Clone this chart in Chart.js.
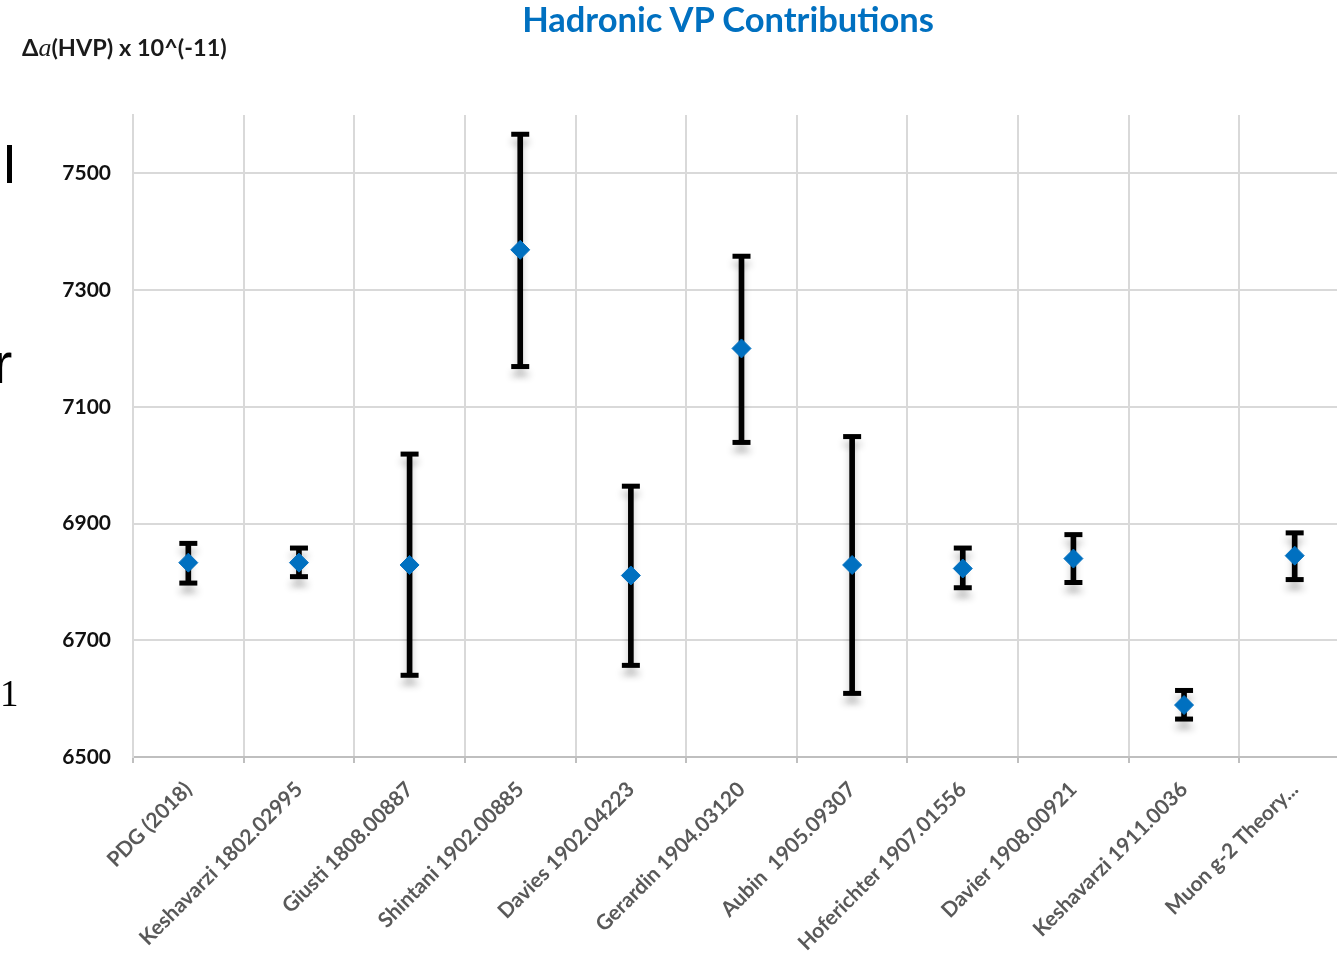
<!DOCTYPE html>
<html>
<head>
<meta charset="utf-8">
<title>Hadronic VP Contributions</title>
<script src="https://cdn.jsdelivr.net/npm/chart.js@4.4.1/dist/chart.umd.min.js"></script>
<style>
  body { margin: 0; background: #fff; overflow: hidden; }
  #wrap { position: relative; width: 1337px; height: 956px; overflow: hidden; }
  #chart { position: absolute; left: 0; top: 0; }
  .title {
    position: absolute; left: 378px; top: 2px; width: 700px;
    text-align: center; font: bold 34.5px/34.5px Lato, sans-serif; color: #0070c0;
  }
  .ylabel {
    position: absolute; left: 22px; top: 36px;
    font: bold 23.5px/23.5px Lato, sans-serif; color: #1a1a1a; white-space: pre;
  }
  .ylabel i { font-family: "Liberation Serif", serif; font-weight: normal; font-size: 26px; }
  .stray { position: absolute; color: #000; line-height: 1; white-space: pre; }
</style>
</head>
<body>
<div id="wrap">
  <!-- the plot runs a little past the right edge of the slide, as in the original -->
  <canvas id="chart" width="1350" height="956"></canvas>
  <div class="title">Hadronic VP Contributions</div>
  <div class="ylabel">Δ<i>a</i>(HVP) x 10^(-11)</div>
  <!-- bits of other slide text cut off at the left edge -->
  <div class="stray" style="left:-22px;top:138px;font:40px/40px 'Liberation Sans',sans-serif;">e</div>
  <div class="stray" style="left:7px;top:145px;width:5px;height:38px;background:#000;"></div>
  <div class="stray" style="left:-7px;top:334px;font:58px/58px 'Liberation Sans',sans-serif;">r</div>
  <div class="stray" style="left:0px;top:675px;font:37px/37px 'Liberation Serif',serif;">1</div>
</div>
<script>
// Data
const labels = [
  "PDG (2018)", "Keshavarzi 1802.02995", "Giusti 1808.00887", "Shintani 1902.00885",
  "Davies 1902.04223", "Gerardin 1904.03120", "Aubin  1905.09307", "Hoferichter 1907.01556",
  "Davier 1908.00921", "Keshavarzi 1911.0036", "Muon g-2 Theory..."
];
const centralValues = [6833, 6833, 6829, 7369, 6811, 7200, 6829, 6823, 6840, 6589, 6845];
const upperValues   = [6866, 6858, 7019, 7567, 6964, 7358, 7049, 6858, 6881, 6614, 6884];
const lowerValues   = [6798, 6809, 6640, 7169, 6657, 7039, 6609, 6790, 6799, 6565, 6804];
const yTicks = [6500, 6700, 6900, 7100, 7300, 7500];

const gridGray = "#d9d9d9";
const axisGray = "#bfbfbf";

// soft shadow under the error bars
const shadowPlugin = {
  id: "barShadow",
  beforeDatasetDraw(chart, args) {
    if (!chart.data.datasets[args.index].shadow) return;
    const c = chart.ctx;
    c.save();
    c.shadowColor = "rgba(0,0,0,0.22)";
    c.shadowBlur = 7;
    c.shadowOffsetY = 8;
  },
  afterDatasetDraw(chart, args) {
    if (chart.data.datasets[args.index].shadow) chart.ctx.restore();
  }
};

const ctx = document.getElementById("chart").getContext("2d");
const chart = new Chart(ctx, {
  type: "bar",
  data: {
    labels: labels,
    datasets: [
      {
        type: "line",
        label: "value",
        data: centralValues,
        showLine: false,
        pointStyle: "rectRot",
        pointRadius: 9.5,
        pointBackgroundColor: "#0070c0",
        pointBorderColor: "#0070c0",
        pointBorderWidth: 1,
        order: 0
      },
      {
        type: "line",
        label: "upper",
        data: upperValues,
        showLine: false,
        pointStyle: "line",
        pointRadius: 9,
        pointBorderColor: "#000",
        pointBorderWidth: 5,
        shadow: true,
        order: 1
      },
      {
        type: "line",
        label: "lower",
        data: lowerValues,
        showLine: false,
        pointStyle: "line",
        pointRadius: 9,
        pointBorderColor: "#000",
        pointBorderWidth: 5,
        shadow: true,
        order: 1
      },
      {
        type: "bar",
        label: "range",
        data: lowerValues.map((lo, i) => [lo, upperValues[i]]),
        backgroundColor: "#000",
        barThickness: 5,
        borderSkipped: false,
        shadow: true,
        order: 2
      }
    ]
  },
  options: {
    responsive: false,
    animation: false,
    events: [],
    layout: { autoPadding: false, padding: { top: 115, left: 0, right: 0, bottom: 0 } },
    plugins: {
      legend: { display: false },
      tooltip: { enabled: false },
      title: { display: false }
    },
    scales: {
      x: {
        offset: true,
        grid: {
          offset: true,
          color: gridGray,
          lineWidth: 2,
          drawTicks: true,
          tickLength: 6,
          tickColor: axisGray,
          tickWidth: 2
        },
        border: { color: axisGray, width: 2 },
        ticks: {
          minRotation: 45,
          maxRotation: 45,
          autoSkip: false,
          padding: 14,
          color: "#595959",
          font: { family: "Lato", weight: "bold", size: 21 }
        },
        afterFit(scale) {
          scale.height = 199;
          scale.paddingLeft = 0;
          scale.paddingRight = 0;
        }
      },
      y: {
        min: 6500,
        max: 7600,
        afterBuildTicks(scale) {
          scale.ticks = yTicks.concat([7600]).map(v => ({ value: v }));
        },
        grid: {
          color: c => (c.tick && c.tick.value === 7600 ? "rgba(0,0,0,0)" : gridGray),
          lineWidth: 2,
          drawTicks: false
        },
        border: { color: gridGray, width: 2 },
        ticks: {
          padding: 22,
          color: "#111",
          font: { family: "Lato", weight: "bold", size: 21 },
          callback: v => (v === 7600 ? "" : String(v))
        },
        afterFit(scale) { scale.width = 133; }
      }
    }
  },
  plugins: [shadowPlugin]
});
</script>
</body>
</html>
